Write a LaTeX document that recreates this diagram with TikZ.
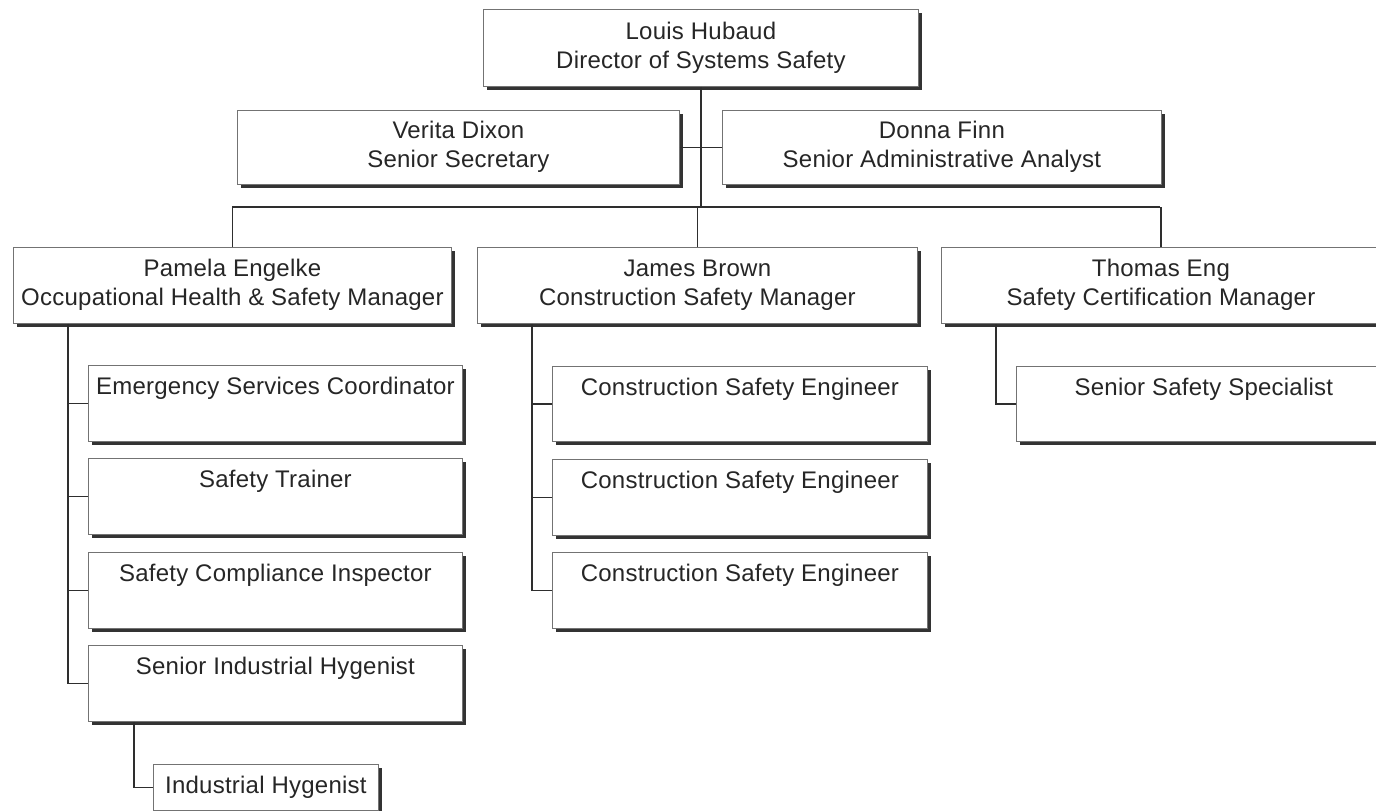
\documentclass[tikz,border=0pt]{standalone}
\usepackage{fontspec}
\setmainfont[LetterSpace=1]{Liberation Sans}
\usetikzlibrary{shadows}
\tikzset{
  box/.style={draw=black!55, line width=0.8pt, fill=white, inner sep=0pt,
    anchor=north west, align=center, text=black!85,
    font=\fontsize{24}{29}\selectfont,
    drop shadow={shadow xshift=3.6pt, shadow yshift=-3.6pt, fill=black!80, opacity=1}},
  conn/.style={draw=black!82, line width=1.8pt},
}
\begin{document}
\begin{tikzpicture}[x=1pt, y=-1pt]
\useasboundingbox (0,0) rectangle (1376,811);

% top level
\node[box, minimum width=435pt, minimum height=77pt] (louis) at (483,9)
  {\strut Louis Hubaud\\\strut Director of Systems Safety};
\node[box, minimum width=442pt, minimum height=74pt] (verita) at (237,110)
  {\strut Verita Dixon\\\strut Senior Secretary};
\node[box, minimum width=439pt, minimum height=74pt] (donna) at (722,110)
  {\strut Donna Finn\\\strut Senior Administrative Analyst};

% managers
\node[box, minimum width=438pt, minimum height=76pt] (pamela) at (13,247)
  {\strut Pamela Engelke\\\strut Occupational Health \& Safety Manager};
\node[box, minimum width=440pt, minimum height=76pt] (james) at (477,247)
  {\strut James Brown\\\strut Construction Safety Manager};
\node[box, minimum width=439pt, minimum height=76pt] (thomas) at (941,247)
  {\strut Thomas Eng\\\strut Safety Certification Manager};

% Pamela's staff
\node[box, minimum width=374pt, minimum height=76pt] (emerg) at (88,365)
  {\strut Emergency Services Coordinator\\\strut};
\node[box, minimum width=374pt, minimum height=76pt] (trainer) at (88,458)
  {\strut Safety Trainer\\\strut};
\node[box, minimum width=374pt, minimum height=76pt] (inspector) at (88,552)
  {\strut Safety Compliance Inspector\\\strut};
\node[box, minimum width=374pt, minimum height=76pt] (senih) at (88,645)
  {\strut Senior Industrial Hygenist\\\strut};
\node[box, minimum width=225pt, minimum height=46pt] (ih) at (153,764)
  {\strut Industrial Hygenist};

% James's staff
\node[box, minimum width=375pt, minimum height=75pt] (cse1) at (552,366)
  {\strut Construction Safety Engineer\\\strut};
\node[box, minimum width=375pt, minimum height=76pt] (cse2) at (552,459)
  {\strut Construction Safety Engineer\\\strut};
\node[box, minimum width=375pt, minimum height=76pt] (cse3) at (552,552)
  {\strut Construction Safety Engineer\\\strut};

% Thomas's staff
\node[box, minimum width=375pt, minimum height=75pt] (sss) at (1016,366)
  {\strut Senior Safety Specialist\\\strut};

% connectors
\coordinate (busL) at (232,207);
\coordinate (busR) at (1160,207);
\draw[conn] (busL) -- (busR);
\draw[conn] (louis.south) -- (louis.south |- busL);
\draw[conn] (verita.east) -- (donna.west);
\draw[conn] (pamela.north) -- (pamela.north |- busL);
\draw[conn] (james.north) -- (james.north |- busL);
\draw[conn] (thomas.north) -- (thomas.north |- busL);

\coordinate (pv) at (68,323);
\draw[conn] (pamela.south -| pv) |- (senih.west);
\draw[conn] (emerg.west) -- (emerg.west -| pv);
\draw[conn] (trainer.west) -- (trainer.west -| pv);
\draw[conn] (inspector.west) -- (inspector.west -| pv);

\coordinate (ihv) at (134,721);
\draw[conn] (senih.south -| ihv) |- (ih.west);

\coordinate (jv) at (532,323);
\draw[conn] (james.south -| jv) |- (cse3.west);
\draw[conn] (cse1.west) -- (cse1.west -| jv);
\draw[conn] (cse2.west) -- (cse2.west -| jv);

\coordinate (tv) at (996,323);
\draw[conn] (thomas.south -| tv) |- (sss.west);
\end{tikzpicture}
\end{document}
